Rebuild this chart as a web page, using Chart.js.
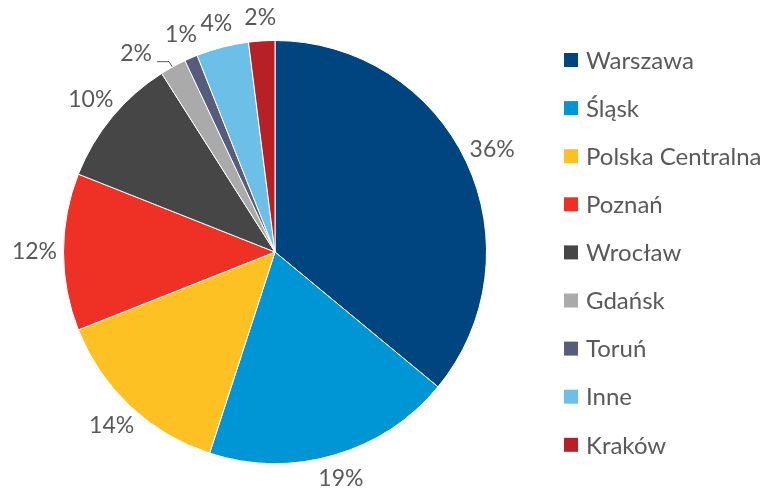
<!DOCTYPE html>
<html>
<head>
<meta charset="utf-8">
<script src="https://cdn.jsdelivr.net/npm/chart.js@4"></script>
<style>
  html, body { margin: 0; padding: 0; background: #fff; }
  #wrap { width: 782px; height: 493px; }
</style>
</head>
<body>
<div id="wrap"><canvas id="pieChart"></canvas></div>
<script>
const regions = ["Warszawa", "Śląsk", "Polska Centralna", "Poznań", "Wrocław", "Gdańsk", "Toruń", "Inne", "Kraków"];
const shares = [36, 19, 14, 12, 10, 2, 1, 4, 2];
const sliceColors = ["#00457f", "#0096d6", "#fdc124", "#ee3124", "#464646", "#aaaaaa", "#575c7d", "#6cc0e8", "#b72025"];

const textColor = "#595959";
const fontFamily = "Lato, 'Open Sans', sans-serif";

// percentages outside the slices + the legend on the right
const outsideLabels = {
    id: "outsideLabels",
    afterDraw(chart) {
        const ctx = chart.ctx;
        const arcs = chart.getDatasetMeta(0).data;
        ctx.save();
        ctx.fillStyle = textColor;
        ctx.font = "23px " + fontFamily;
        ctx.textAlign = "center";
        ctx.textBaseline = "middle";
        arcs.forEach((arc, i) => {
            const mid = (arc.startAngle + arc.endAngle) / 2;
            const r = arc.outerRadius + 23 + 6 * Math.abs(Math.cos(mid));
            let x = arc.x + Math.cos(mid) * r;
            let y = arc.y + Math.sin(mid) * r;
            const txt = shares[i] + "%";
            if (regions[i] === "Gdańsk") {
                // pushed aside, with a leader line
                const ex = arc.x + Math.cos(mid) * arc.outerRadius;
                const ey = arc.y + Math.sin(mid) * arc.outerRadius;
                ctx.strokeStyle = textColor;
                ctx.lineWidth = 1;
                ctx.beginPath();
                ctx.moveTo(ex - 1, ey);
                ctx.lineTo(ex - 4, ey - 5);
                ctx.lineTo(ex - 16, ey - 5);
                ctx.stroke();
                x = ex - 37;
                y = ey - 13;
            }
            ctx.fillText(txt, x, y);
        });

        // legend
        ctx.textAlign = "left";
        ctx.font = "24px " + fontFamily;
        regions.forEach((name, i) => {
            const cy = 60 + i * 48.1;
            ctx.fillStyle = sliceColors[i];
            ctx.fillRect(564, cy - 7, 14, 14);
            ctx.fillStyle = textColor;
            ctx.fillText(name, 586, cy + 1);
        });
        ctx.restore();
    }
};

new Chart(document.getElementById("pieChart").getContext("2d"), {
    type: "pie",
    data: {
        labels: regions,
        datasets: [{
            data: shares,
            backgroundColor: sliceColors,
            borderColor: "#ffffff",
            borderWidth: 1,
        }],
    },
    options: {
        responsive: true,
        maintainAspectRatio: false,
        animation: false,
        layout: { padding: { left: 63, right: 295, top: 40, bottom: 29 } },
        plugins: {
            legend: { display: false },
            tooltip: { enabled: false },
        },
    },
    plugins: [outsideLabels],
});
</script>
</body>
</html>
